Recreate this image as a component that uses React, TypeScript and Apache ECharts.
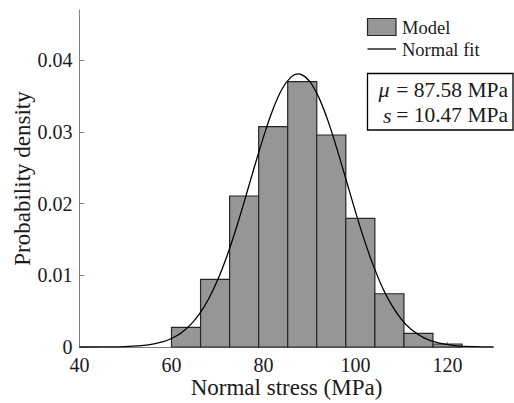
import React, { useEffect, useRef } from "react";
import * as echarts from "echarts";

// Histogram bins (edges in MPa) and densities
const binEdges = [60, 66.32, 72.63, 78.95, 85.26, 91.58, 97.89, 104.21, 110.53, 116.84, 123.16];
const binDensity = [0.00275, 0.00944, 0.02106, 0.03073, 0.0370, 0.02957, 0.01795, 0.00743, 0.0019, 0.00042];

// Normal fit curve points
const curveX = [40, 45, 50, 55, 58, 60, 62, 64, 66, 68, 70, 72, 74, 76, 78, 80, 82, 84, 86, 87.5, 88, 90, 92, 94, 96, 98, 100, 102, 104, 106, 108, 110, 112, 115, 118, 122, 126, 130];
const curveY = [0, 0.00001, 0.00006, 0.0003, 0.0007, 0.00119, 0.00193, 0.00302, 0.00455, 0.00663, 0.0093, 0.01259, 0.01643, 0.02067, 0.02507, 0.02931, 0.03306, 0.03594, 0.03767, 0.0381, 0.03807, 0.03709, 0.03485, 0.03157, 0.02757, 0.02322, 0.01885, 0.01476, 0.01114, 0.0081, 0.00569, 0.00385, 0.00251, 0.00123, 0.00056, 0.00017, 0.00005, 0.00001];

const xTicks = [40, 60, 80, 100, 120];
const yTicks = [0, 0.01, 0.02, 0.03, 0.04];

const legendNames = ["Model", "Normal fit"];
const fitSymbols = ["μ", "s"];
const fitValues = ["= 87.58 MPa", "= 10.47 MPa"];

const FONT = "Liberation Serif";
const BAR_FILL = "#969696";
const BAR_STROKE = "#262626";
const AXIS_GRAY = "#7f7f7f";

export default function App() {
  const ref = useRef<HTMLDivElement>(null);

  useEffect(() => {
    if (!ref.current) return;
    const chart = echarts.init(ref.current, null, { renderer: "svg" });

    const histData = binDensity.map((d, i) => [binEdges[i], binEdges[i + 1], d]);
    const curveData = curveX.map((x, i) => [x, curveY[i]]);

    const textStyle = (text: string, size: number, align: string, italic = false) => ({
      text,
      fontFamily: FONT,
      fontSize: size,
      fontStyle: italic ? "italic" : "normal",
      fill: "#1a1a1a",
      align,
      verticalAlign: "middle",
    });

    chart.setOption({
      animation: false,
      backgroundColor: "#ffffff",
      grid: { left: 79.5, right: 20.5, top: 10, bottom: 56, containLabel: false, outerBoundsMode: "none" },
      xAxis: {
        type: "value",
        min: 40,
        max: 130,
        name: "Normal stress (MPa)",
        nameLocation: "middle",
        nameGap: 29,
        nameMoveOverlap: false,
        nameTextStyle: { fontFamily: FONT, fontSize: 23, color: "#1a1a1a" },
        axisLine: { show: true, lineStyle: { color: AXIS_GRAY, width: 1 } },
        axisTick: { show: true, inside: true, length: 5, lineStyle: { color: AXIS_GRAY }, customValues: xTicks },
        axisLabel: { customValues: xTicks, fontFamily: FONT, fontSize: 20, color: "#1a1a1a", margin: 8 },
        splitLine: { show: false },
      },
      yAxis: {
        type: "value",
        min: 0,
        max: 0.047,
        name: "Probability density",
        nameLocation: "middle",
        nameGap: 46,
        nameMoveOverlap: false,
        nameTextStyle: { fontFamily: FONT, fontSize: 23, color: "#1a1a1a" },
        axisLine: { show: true, lineStyle: { color: AXIS_GRAY, width: 1 } },
        axisTick: { show: true, inside: true, length: 5, lineStyle: { color: AXIS_GRAY }, customValues: yTicks },
        axisLabel: {
          customValues: yTicks,
          fontFamily: FONT,
          fontSize: 20,
          color: "#1a1a1a",
          margin: 7,
          formatter: (v: number) => (v === 0 ? "0" : v.toFixed(2)),
        },
        splitLine: { show: false },
      },
      series: [
        {
          type: "custom",
          name: legendNames[0],
          data: histData,
          encode: { x: [0, 1], y: 2 },
          renderItem: (params: any, api: any) => {
            const x0 = api.value(0);
            const x1 = api.value(1);
            const h = api.value(2);
            const p0 = api.coord([x0, h]);
            const p1 = api.coord([x1, 0]);
            return {
              type: "rect",
              shape: { x: p0[0], y: p0[1], width: p1[0] - p0[0], height: p1[1] - p0[1] },
              style: { fill: BAR_FILL, stroke: BAR_STROKE, lineWidth: 1.2 },
            };
          },
          z: 2,
        },
        {
          type: "line",
          name: legendNames[1],
          data: curveData,
          smooth: 0.3,
          showSymbol: false,
          lineStyle: { color: "#000000", width: 1.3 },
          z: 3,
        },
      ],
      graphic: [
        {
          type: "rect",
          shape: { x: 367.5, y: 18.5, width: 28.5, height: 17 },
          style: { fill: BAR_FILL, stroke: BAR_STROKE, lineWidth: 1.2 },
        },
        {
          type: "line",
          shape: { x1: 367.5, y1: 49, x2: 396, y2: 49 },
          style: { stroke: "#000000", lineWidth: 1.3 },
        },
        { type: "text", x: 402, y: 28, style: textStyle(legendNames[0], 18.5, "left") },
        { type: "text", x: 402, y: 49.5, style: textStyle(legendNames[1], 18.5, "left") },
        {
          type: "rect",
          shape: { x: 367.5, y: 73.5, width: 145.5, height: 56.5 },
          style: { fill: "#ffffff", stroke: "#000000", lineWidth: 1.3 },
        },
        { type: "text", x: 378.5, y: 89.5, style: textStyle(fitSymbols[0], 22, "left", true) },
        { type: "text", x: 508, y: 89.5, style: textStyle(fitValues[0], 21.5, "right") },
        { type: "text", x: 383, y: 115, style: textStyle(fitSymbols[1], 22, "left", true) },
        { type: "text", x: 508, y: 115, style: textStyle(fitValues[1], 21.5, "right") },
      ],
    });

    return () => chart.dispose();
  }, []);

  return (
    <div
      ref={ref}
      style={{ position: "fixed", left: 0, top: 0, width: 514, height: 403, background: "#fff" }}
    />
  );
}
